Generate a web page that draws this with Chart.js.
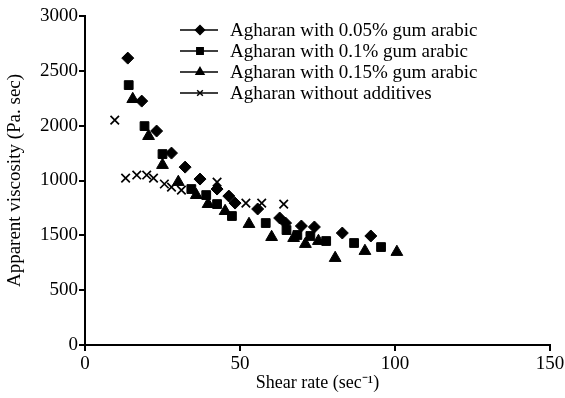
<!DOCTYPE html>
<html>
<head>
<meta charset="utf-8">
<script src="https://cdn.jsdelivr.net/npm/chart.js@4/dist/chart.umd.min.js"></script>
<style>
  html, body { margin: 0; padding: 0; background: #fff; }
  #wrap { width: 565px; height: 398px; }
</style>
</head>
<body>
<div id="wrap"><canvas id="chart" width="565" height="398"></canvas></div>
<script>
// series data: shear rate (x) and apparent viscosity (y)
const gum005X = [13.8, 18.3, 23.1, 27.9, 32.3, 37.1, 42.6, 46.4, 48.4, 55.7, 62.8, 64.7, 69.8, 74.0, 83.0, 92.2];
const gum005Y = [2616, 2224, 1951, 1750, 1622, 1513, 1422, 1358, 1294, 1240, 1158, 1112, 1085, 1076, 1021, 994];

const gum01X = [14.1, 19.2, 25.0, 34.3, 39.1, 42.6, 47.4, 58.3, 65.0, 68.5, 72.7, 77.8, 86.8, 95.5];
const gum01Y = [2370, 1996, 1741, 1422, 1367, 1285, 1176, 1112, 1048, 1003, 994, 948, 930, 893];

const gum015X = [15.4, 20.5, 25.0, 30.1, 35.9, 39.7, 45.2, 52.9, 60.2, 67.3, 71.1, 75.3, 80.7, 90.3, 100.6];
const gum015Y = [2242, 1905, 1641, 1486, 1367, 1285, 1221, 1103, 984, 975, 921, 948, 793, 857, 848];

const plainX = [9.6, 13.1, 16.7, 19.9, 22.1, 25.6, 27.9, 31.1, 42.6, 51.9, 57.0, 64.1];
const plainY = [2051, 1522, 1550, 1550, 1522, 1468, 1440, 1413, 1486, 1294, 1294, 1285];

const seriesNames = [
    'Agharan with 0.05% gum arabic',
    'Agharan with 0.1% gum arabic',
    'Agharan with 0.15% gum arabic',
    'Agharan without additives'
];

// tick labels exactly as printed on the original figure
const yTickLabels = ['0', '500', '1500', '1000', '2000', '2500', '3000'];
const xTickLabels = ['0', '50', '100', '150'];

const FONT = '"Liberation Serif", "Times New Roman", serif';

function toPoints(xs, ys) {
    return xs.map((x, i) => ({ x: x, y: ys[i] }));
}

const styles = [
    { pointStyle: 'rectRot', radius: 6, borderWidth: 1 },
    { pointStyle: 'rect', radius: 6.2, borderWidth: 1 },
    { pointStyle: 'triangle', radius: 6.8, borderWidth: 1 },
    { pointStyle: 'crossRot', radius: 6, borderWidth: 1.7 }
];

const dataSets = [
    toPoints(gum005X, gum005Y),
    toPoints(gum01X, gum01Y),
    toPoints(gum015X, gum015Y),
    toPoints(plainX, plainY)
].map((pts, i) => ({
    label: seriesNames[i],
    data: pts,
    showLine: false,
    pointStyle: styles[i].pointStyle,
    pointRadius: styles[i].radius,
    pointHoverRadius: styles[i].radius,
    pointBorderWidth: styles[i].borderWidth,
    backgroundColor: '#000',
    borderColor: '#000'
}));

// legend: short line with marker in the middle, then label
const lineLegend = {
    id: 'lineLegend',
    afterDraw(chart) {
        const ctx = chart.ctx;
        const rows = [30, 51, 72, 93];
        ctx.save();
        chart.data.datasets.forEach((ds, i) => {
            const y = rows[i];
            ctx.strokeStyle = '#000';
            ctx.lineWidth = 1.5;
            ctx.beginPath();
            ctx.moveTo(180, y);
            ctx.lineTo(218, y);
            ctx.stroke();
            Chart.helpers.drawPoint(ctx, {
                pointStyle: ds.pointStyle,
                radius: i === 3 ? 4 : 4.5,
                borderWidth: ds.pointBorderWidth,
                rotation: 0
            }, 200, y);
            ctx.fillStyle = '#000';
            ctx.font = '19px ' + FONT;
            ctx.textBaseline = 'middle';
            ctx.textAlign = 'left';
            ctx.fillText(ds.label, 230, y + 1);
        });
        ctx.restore();
    }
};

new Chart(document.getElementById('chart'), {
    type: 'scatter',
    data: { datasets: dataSets },
    plugins: [lineLegend],
    options: {
        responsive: false,
        animation: false,
        layout: { padding: { top: 16, right: 0, left: 0, bottom: 0 } },
        plugins: { legend: { display: false }, tooltip: { enabled: false } },
        scales: {
            x: {
                type: 'linear',
                min: 0,
                max: 150,
                afterFit: s => { s.height = 53; s.paddingRight = 15; },
                ticks: {
                    stepSize: 50,
                    color: '#000',
                    font: { family: FONT, size: 19 },
                    padding: 2,
                    maxRotation: 0,
                    callback: (v, i) => xTickLabels[i]
                },
                grid: { drawOnChartArea: false, drawTicks: true, tickLength: 6, color: '#000', lineWidth: 2 },
                border: { color: '#000', width: 2 },
                title: {
                    display: true,
                    text: 'Shear rate (sec\u207B\u00B9)',
                    color: '#000',
                    font: { family: FONT, size: 18 },
                    padding: { top: 0 }
                }
            },
            y: {
                type: 'linear',
                min: 0,
                max: 3000,
                afterFit: s => { s.width = 85; },
                ticks: {
                    stepSize: 500,
                    color: '#000',
                    font: { family: FONT, size: 19 },
                    padding: 1,
                    callback: (v, i) => yTickLabels[i]
                },
                grid: { drawOnChartArea: false, drawTicks: true, tickLength: 6, color: '#000', lineWidth: 2 },
                border: { color: '#000', width: 2 },
                title: {
                    display: true,
                    text: 'Apparent viscosity (Pa. sec)',
                    color: '#000',
                    font: { family: FONT, size: 19 },
                    padding: { top: 4, bottom: 0 }
                }
            }
        }
    }
});
</script>
</body>
</html>
